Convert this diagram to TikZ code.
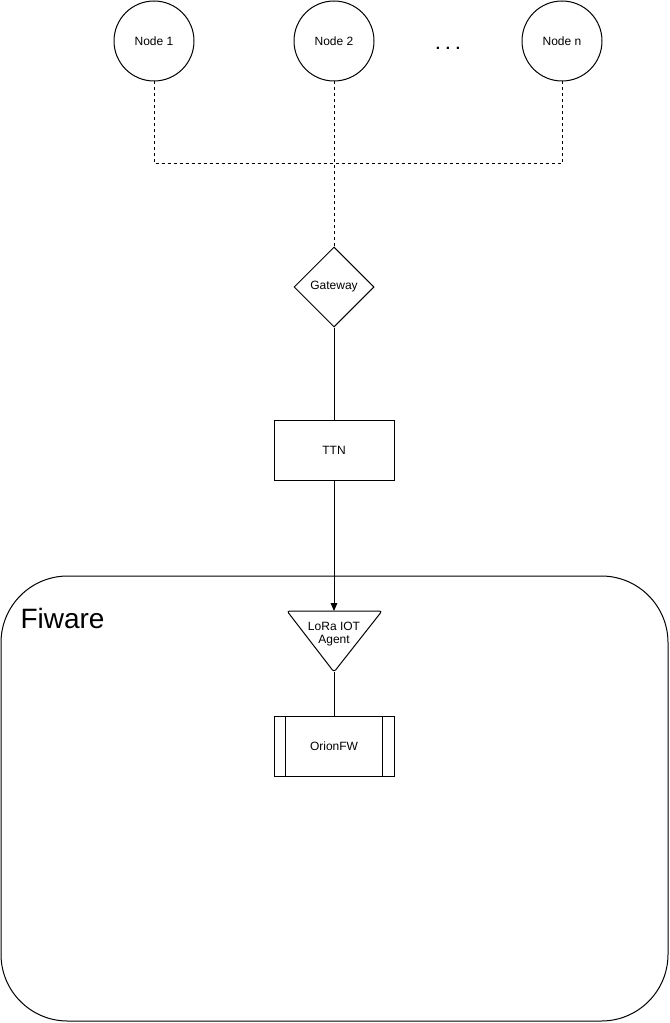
\documentclass[tikz,border=0pt]{standalone}
\usepackage{fontspec}
\setmainfont{Liberation Sans}
\usetikzlibrary{shapes.geometric,arrows.meta}

\begin{document}
\begin{tikzpicture}[x=0.75pt,y=-0.75pt,line width=0.75pt,
  font=\fontsize{9}{10.5}\selectfont,
  devnode/.style={draw,circle,minimum size=60pt,inner sep=0pt},
  gatenode/.style={draw,diamond,minimum width=60pt,minimum height=60pt,inner sep=0pt},
  boxnode/.style={draw,rectangle,minimum width=90pt,minimum height=45pt,inner sep=0pt},
  lorawan/.style={dash pattern=on 2.25pt off 2.25pt}]
\useasboundingbox (0,0) rectangle (670,1023);

% Fiware container
\draw[rounded corners=50pt] (1,576) rectangle (668,1021);
\node[anchor=base west,inner sep=0pt,font=\fontsize{21}{24}\selectfont] (fiware) at (20,628) {Fiware};

% end devices
\node[devnode] (node1) at (154,41) {Node 1};
\node[devnode] (node2) at (334,41) {Node 2};
\node[devnode] (noden) at (562,41) {Node n};
\node[anchor=base,inner sep=0pt,font=\fontsize{11.5}{12}\bfseries] (dots) at (448,50) {. . .};

% gateway and network server
\node[gatenode] (gw) at (334,287) {Gateway};
\node[boxnode] (ttn) at (334,450) {TTN};

\coordinate (bus) at (334,164);
\draw[lorawan] (node1.south) |- (bus);
\draw[lorawan] (noden.south) |- (bus);
\draw[lorawan] (node2.south) -- (gw.north);

\draw (gw.south) -- (ttn.north);

% agent
\coordinate (agtop) at (334,611);
\coordinate (agtip) at (334,672);
\draw[rounded corners=2pt] (287,611) -- (382,611) -- (agtip) -- cycle;
\node[align=center,font=\fontsize{9}{9.5}\selectfont] (agent) at (334,634) {LoRa IOT\\Agent};
\draw[-{Triangle[length=6pt,width=5pt]}] (ttn.south) -- (agtop);

% context broker
\node[boxnode] (orion) at (334,746) {OrionFW};
\draw ([xshift=9pt]orion.north west) -- ([xshift=9pt]orion.south west);
\draw ([xshift=-9pt]orion.north east) -- ([xshift=-9pt]orion.south east);
\draw (agtip) -- (orion.north);
\end{tikzpicture}
\end{document}
